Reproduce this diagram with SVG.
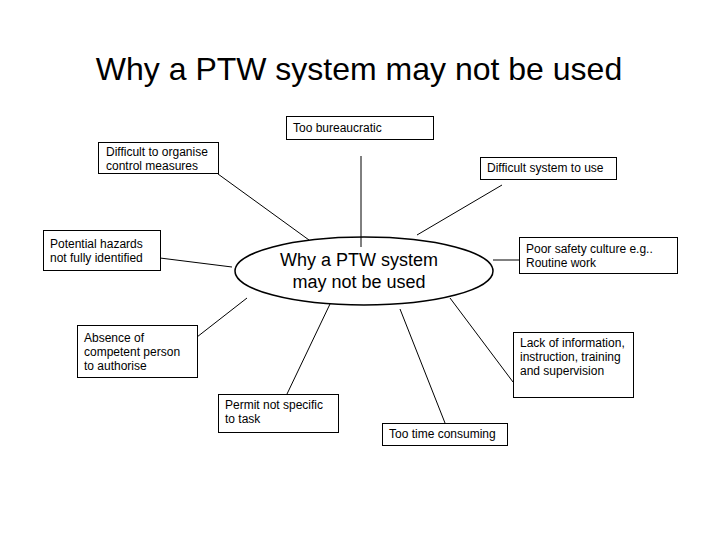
<svg xmlns="http://www.w3.org/2000/svg" width="720" height="540" viewBox="0 0 720 540">
<style>
text{font-family:"Liberation Sans",Arial,sans-serif;fill:#000}
.lbl{font-size:12px}
.box{fill:#fff;stroke:#000;stroke-width:1}
.c{stroke:#000;stroke-width:1;fill:none}
</style>
<rect width="720" height="540" fill="#fff"/>
<text x="359" y="80" font-size="32" text-anchor="middle">Why a PTW system may not be used</text>
<g id="connectors">
<line class="c" x1="361" y1="156" x2="361" y2="247"/>
<line class="c" x1="218" y1="174" x2="309" y2="240"/>
<line class="c" x1="502" y1="185" x2="417" y2="235"/>
<line class="c" x1="160" y1="258" x2="232" y2="267"/>
<line class="c" x1="493" y1="260" x2="519" y2="260"/>
<line class="c" x1="197" y1="337" x2="247" y2="298"/>
<line class="c" x1="450" y1="298" x2="513" y2="382"/>
<line class="c" x1="330" y1="304" x2="287" y2="394"/>
<line class="c" x1="400" y1="309" x2="445" y2="423"/>
</g>
<g id="center">
<ellipse cx="364" cy="271" rx="129" ry="34" fill="none" stroke="#000" stroke-width="1.5"/>
<text x="359" y="266" font-size="18" text-anchor="middle">Why a PTW system</text>
<text x="359" y="288" font-size="18" text-anchor="middle">may not be used</text>
</g>
<g id="too-bureaucratic">
<rect class="box" x="286.5" y="116.5" width="147" height="23"/>
<text class="lbl" x="293" y="132">Too bureaucratic</text>
</g>
<g id="difficult-organise">
<rect class="box" x="98.5" y="142.5" width="120" height="31"/>
<text class="lbl" x="106" y="156">Difficult to organise</text>
<text class="lbl" x="106" y="170">control measures</text>
</g>
<g id="difficult-system">
<rect class="box" x="480.5" y="157.5" width="136" height="22"/>
<text class="lbl" x="487" y="172">Difficult system to use</text>
</g>
<g id="potential-hazards">
<rect class="box" x="43.5" y="230.5" width="117" height="40"/>
<text class="lbl" x="50" y="248">Potential hazards</text>
<text class="lbl" x="50" y="262">not fully identified</text>
</g>
<g id="poor-safety">
<rect class="box" x="519.5" y="237.5" width="158" height="36"/>
<text class="lbl" x="526" y="253">Poor safety culture e.g..</text>
<text class="lbl" x="526" y="267">Routine work</text>
</g>
<g id="absence">
<rect class="box" x="77.5" y="325.5" width="120" height="52"/>
<text class="lbl" x="84" y="342">Absence of</text>
<text class="lbl" x="84" y="356">competent person</text>
<text class="lbl" x="84" y="370">to authorise</text>
</g>
<g id="lack-info">
<rect class="box" x="513.5" y="332.5" width="120" height="65"/>
<text class="lbl" x="520" y="347">Lack of information,</text>
<text class="lbl" x="520" y="361">instruction, training</text>
<text class="lbl" x="520" y="375">and supervision</text>
</g>
<g id="permit">
<rect class="box" x="218.5" y="394.5" width="120" height="38"/>
<text class="lbl" x="225" y="409">Permit not specific</text>
<text class="lbl" x="225" y="423">to task</text>
</g>
<g id="time-consuming">
<rect class="box" x="382.5" y="423.5" width="125" height="22"/>
<text class="lbl" x="389" y="438">Too time consuming</text>
</g>
</svg>
